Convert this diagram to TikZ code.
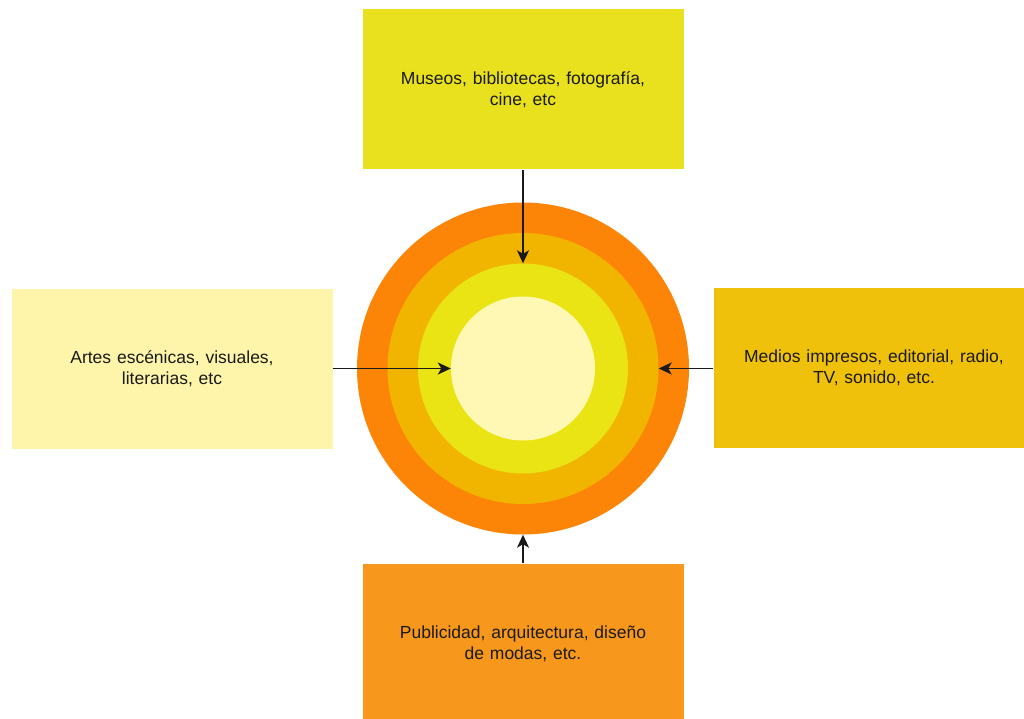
\documentclass[tikz,border=0pt]{standalone}
\usepackage{fontspec}
\setmainfont{Liberation Sans}
\usetikzlibrary{arrows.meta}

\definecolor{ringA}{HTML}{FC8508}
\definecolor{ringB}{HTML}{F1B500}
\definecolor{ringC}{HTML}{EBE414}
\definecolor{ringD}{HTML}{FFF8B4}
\definecolor{boxTop}{HTML}{E9E11E}
\definecolor{boxRight}{HTML}{F0C10A}
\definecolor{boxLeft}{HTML}{FFF5AA}
\definecolor{boxBottom}{HTML}{F7981D}
\definecolor{ink}{HTML}{1A1A1A}

\tikzset{
  infobox/.style={rectangle, draw=none, minimum width=321pt, minimum height=160pt,
    inner sep=0pt, text width=300pt, align=center, text=ink,
    font=\fontsize{17.5}{21}\selectfont},
  ring/.style={circle, draw=none, inner sep=0pt, minimum size=#1},
  feed/.style={draw=ink, line width=1.8pt, -{Stealth[length=13pt, width=12pt, inset=3.5pt]}}
}

\begin{document}
\begin{tikzpicture}[x=1pt, y=-1pt]
  \useasboundingbox (0,0) rectangle (1024,719);
  \clip (0,0) rectangle (1024,719);

  % concentric rings
  \node[ring=332pt, fill=ringA] (r1) at (523,368.5) {};
  \node[ring=271pt, fill=ringB] (r2) at (523,368.5) {};
  \node[ring=210pt, fill=ringC] (r3) at (523,368.5) {};
  \node[ring=144pt, fill=ringD] (r4) at (523,368.5) {};

  % surrounding boxes
  \node[infobox, fill=boxTop] (top) at (523,89.5)
    {Museos, bibliotecas, fotografía,\\cine, etc};
  \node[infobox, fill=boxLeft] (left) at (172,368.5)
    {Artes escénicas, visuales,\\literarias, etc};
  \node[infobox, fill=boxRight] (right) at (874,367.5)
    {Medios impresos, editorial, radio,\\TV, sonido, etc.};
  \node[infobox, fill=boxBottom] (bottom) at (523,643.5)
    {Publicidad, arquitectura, diseño\\de modas, etc.};

  % connectors
  \draw[feed] (top.south) -- (r3.north);
  \draw[feed] (left.east) -- (r4.west);
  \draw[feed] (right.west |- r2.east) -- (r2.east);
  \draw[feed] (bottom.north) -- (r1.south);
\end{tikzpicture}
\end{document}
